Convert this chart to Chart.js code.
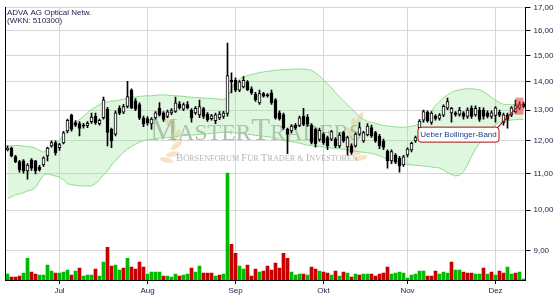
<!DOCTYPE html>
<html>
<head>
<meta charset="utf-8">
<script src="https://cdn.jsdelivr.net/npm/chart.js@4/dist/chart.umd.min.js"></script>
<style>
html, body { margin: 0; padding: 0; background: #fff; }
#wrap { width: 555px; height: 300px; position: relative; }
</style>
</head>
<body>
<div id="wrap"><canvas id="chart"></canvas></div>
<script>
// Tageskerzen (Eröffnung, Hoch, Tief, Schluss)
var openP = [11.72,11.77,11.51,11.36,11.38,11.09,11.41,11.38,11.20,11.26,11.53,11.84,11.94,11.78,11.93,12.31,12.83,12.58,12.55,12.50,
  12.48,12.61,12.79,12.55,12.75,13.03,12.36,12.21,13.06,12.93,13.13,13.70,13.32,13.19,12.74,12.72,12.54,12.74,13.06,12.91,
  12.79,12.91,12.96,13.22,13.03,13.19,13.00,12.91,12.84,13.05,12.86,12.71,12.65,12.74,12.79,12.89,14.06,14.06,13.70,13.82,
  14.00,13.75,13.56,13.25,13.58,13.52,13.60,13.36,12.91,12.85,12.36,12.31,12.49,12.49,12.79,12.77,12.49,12.36,12.04,12.21,
  12.10,12.05,12.05,11.84,12.26,11.81,11.84,11.84,12.21,11.99,12.18,12.42,12.26,12.15,11.99,11.68,11.38,11.56,11.46,11.26,
  11.56,11.71,11.99,12.42,12.66,12.93,12.59,12.79,12.72,12.83,13.07,12.91,12.91,12.86,12.91,12.79,13.06,12.84,13.00,13.00,
  12.91,12.79,12.82,12.93,12.58,12.84,12.84,12.95,13.08,13.22];
var highP = [11.84,11.80,11.55,11.40,11.42,11.30,11.45,11.40,11.25,11.50,11.80,12.00,12.00,11.92,12.30,12.70,12.87,12.65,12.62,12.56,
  12.62,12.90,12.90,12.70,13.45,13.10,12.40,12.98,13.15,13.20,14.02,13.75,13.40,13.25,12.80,12.78,12.75,12.95,13.26,12.95,
  13.00,13.05,13.45,13.30,13.25,13.30,13.05,13.12,13.35,13.10,12.92,12.86,12.90,12.95,12.96,15.50,14.34,14.15,14.05,14.20,
  14.05,13.82,13.62,13.70,13.62,13.58,13.70,13.40,12.98,12.90,12.40,12.52,12.55,12.80,13.06,12.85,12.55,12.40,12.40,12.25,
  12.15,12.33,12.10,12.25,12.30,12.15,11.90,12.25,12.58,12.30,12.55,12.50,12.30,12.20,12.05,11.72,11.72,11.60,11.52,11.55,
  11.78,11.96,12.15,12.68,13.00,12.98,12.95,12.85,12.88,13.18,13.42,13.10,12.95,13.10,12.95,13.08,13.15,13.15,13.10,13.08,
  12.98,12.98,13.12,13.00,12.90,12.90,13.12,13.35,13.30,13.28];
var lowP = [11.68,11.50,11.33,11.05,11.02,10.85,11.10,11.00,11.08,11.22,11.38,11.80,11.55,11.70,11.90,12.25,12.30,12.45,12.15,12.40,
  12.42,12.56,12.52,12.50,12.70,11.84,11.78,12.15,12.85,12.88,13.08,13.05,12.98,12.68,12.45,12.50,12.37,12.70,12.80,12.62,
  12.75,12.85,12.92,13.03,12.98,13.04,12.60,12.86,12.75,12.72,12.62,12.66,12.55,12.68,12.72,12.80,13.60,13.65,13.65,13.78,
  13.68,13.55,13.30,13.20,13.45,13.45,13.20,12.70,12.66,12.36,11.60,12.25,12.36,12.45,12.48,12.46,11.90,11.80,11.98,11.88,
  11.72,12.00,11.78,11.78,11.95,11.55,11.58,11.80,12.17,11.95,12.15,12.10,11.95,11.75,11.72,11.17,11.30,11.30,11.05,11.22,
  11.50,11.65,11.95,12.38,12.60,12.60,12.52,12.66,12.66,12.78,13.02,12.60,12.80,12.80,12.70,12.72,12.72,12.80,12.62,12.70,
  12.74,12.72,12.60,12.78,12.50,12.40,12.78,12.90,13.02,13.08];
var closeP = [11.76,11.53,11.36,11.12,11.09,11.26,11.17,11.09,11.12,11.47,11.77,11.94,11.63,11.88,12.25,12.66,12.36,12.50,12.39,12.47,
  12.56,12.77,12.58,12.66,13.36,12.26,11.99,12.91,12.90,13.12,13.47,13.08,13.03,12.74,12.53,12.58,12.70,12.91,12.84,12.69,
  12.94,12.99,13.25,13.08,13.19,13.08,12.74,13.06,13.12,12.79,12.68,12.81,12.84,12.87,12.90,14.23,14.00,13.70,14.00,14.06,
  13.72,13.61,13.36,13.58,13.49,13.50,13.25,12.74,12.71,12.41,12.20,12.47,12.41,12.74,12.52,12.52,11.95,11.90,12.33,11.94,
  11.84,12.29,11.84,12.18,11.99,12.10,11.64,12.21,12.42,12.26,12.47,12.15,11.99,11.84,11.79,11.38,11.66,11.36,11.23,11.50,
  11.74,11.92,12.10,12.63,12.95,12.65,12.90,12.72,12.83,13.13,13.30,13.06,12.86,13.00,12.79,13.00,12.79,13.06,12.69,12.79,
  12.79,12.91,13.08,12.83,12.84,12.69,13.08,13.16,13.22,13.13];

// Bollinger-Band (oben / unten)
var bbUpper = [11.83,11.84,11.85,11.85,11.83,11.82,11.80,11.77,11.70,11.64,11.74,11.83,11.92,12.01,12.20,12.36,12.49,12.59,12.69,12.79,
  12.92,13.02,13.11,13.19,13.26,13.29,13.31,13.32,13.35,13.38,13.41,13.44,13.46,13.48,13.49,13.50,13.50,13.52,13.53,13.53,
  13.52,13.51,13.50,13.49,13.48,13.46,13.45,13.44,13.43,13.42,13.41,13.40,13.39,13.38,13.37,13.43,13.75,14.00,14.11,14.18,
  14.24,14.27,14.31,14.35,14.37,14.39,14.41,14.43,14.45,14.45,14.46,14.47,14.48,14.48,14.48,14.46,14.43,14.34,14.22,14.07,
  13.93,13.79,13.61,13.46,13.32,13.19,13.05,12.92,12.79,12.69,12.62,12.59,12.56,12.52,12.49,12.47,12.46,12.44,12.43,12.43,
  12.44,12.46,12.49,12.56,12.65,12.82,12.98,13.16,13.29,13.43,13.53,13.62,13.68,13.71,13.74,13.75,13.75,13.74,13.71,13.64,
  13.55,13.44,13.34,13.26,13.20,13.19,13.19,13.19,13.19,13.19];
var bbLower = [10.31,10.36,10.42,10.44,10.47,10.52,10.55,10.61,10.80,10.96,11.00,10.97,10.94,10.91,10.83,10.72,10.69,10.68,10.66,10.66,
  10.66,10.66,10.72,10.83,10.97,11.08,11.26,11.38,11.52,11.64,11.74,11.82,11.89,11.95,12.00,12.03,12.04,12.06,12.08,12.09,
  12.10,12.11,12.13,12.15,12.16,12.17,12.18,12.19,12.20,12.21,12.22,12.23,12.24,12.26,12.27,12.28,12.27,12.25,12.23,12.22,
  12.20,12.19,12.17,12.16,12.14,12.13,12.11,12.08,12.04,12.01,11.98,11.97,11.95,11.92,11.89,11.86,11.85,11.83,11.82,11.80,
  11.79,11.77,11.76,11.75,11.74,11.72,11.71,11.67,11.66,11.64,11.63,11.61,11.58,11.54,11.48,11.43,11.39,11.33,11.30,11.29,
  11.28,11.26,11.25,11.24,11.23,11.22,11.20,11.19,11.17,11.11,11.04,10.98,10.94,10.96,11.06,11.26,11.52,11.74,11.92,12.11,
  12.27,12.39,12.51,12.59,12.62,12.65,12.67,12.68,12.69,12.69];

// Umsatz (Tsd. Stück) und Richtung (1 = steigend, -1 = fallend)
var volume = [24,12,12,16,28,88,32,24,20,20,60,36,28,28,32,40,20,36,48,16,
  20,20,44,16,72,132,56,60,40,48,88,52,44,72,52,24,32,32,32,16,
  16,12,24,16,20,24,48,32,56,28,28,28,16,20,24,432,144,108,56,44,
  60,16,44,32,36,56,40,68,48,108,88,32,20,24,24,20,52,44,36,32,
  28,20,36,16,32,28,12,24,20,24,24,24,16,24,28,52,24,28,32,28,
  8,20,24,36,36,16,16,36,24,32,28,72,40,40,32,28,28,24,24,48,
  24,32,20,36,28,52,24,28,32,4];
var volDir = [1,-1,-1,-1,1,1,-1,-1,1,1,1,1,-1,1,1,1,-1,1,-1,1,
  1,1,-1,1,1,-1,-1,1,1,-1,1,-1,-1,-1,-1,1,1,1,1,-1,
  1,1,1,-1,1,1,-1,1,1,-1,-1,-1,1,-1,1,1,-1,-1,1,1,
  -1,-1,-1,1,-1,-1,-1,-1,-1,-1,-1,1,1,1,-1,1,-1,-1,1,-1,
  -1,1,-1,1,-1,1,-1,1,-1,1,1,-1,-1,-1,-1,-1,1,1,1,1,
  1,1,1,1,1,-1,-1,-1,1,1,1,-1,1,1,-1,-1,-1,1,1,-1,
  1,-1,1,-1,-1,1,1,-1,1,1];

// Achsen
var months = ['Jul', 'Aug', 'Sep', 'Okt', 'Nov', 'Dez'];
var monthStart = [13, 35, 57, 79, 100, 122];
var priceTicks = [9, 10, 11, 12, 13, 14, 15, 16, 17];
var titleLines = ['ADVA AG Optical Netw.', '(WKN: 510300)'];
var signalIndex = 128;
var signalText = 'Ueber Bollinger-Band';

var FONT = '"Liberation Sans", Arial, sans-serif';
var TEXT = '#1c1c48';
Chart.defaults.font.family = FONT;
Chart.defaults.font.size = 8;

var labels = [];
var bodies = [];
var wicks = [];
for (var i = 0; i < closeP.length; i++) {
    var k = monthStart.indexOf(i);
    labels.push(k >= 0 ? months[k] : '');
    bodies.push([openP[i], closeP[i]]);
    wicks.push([lowP[i], highP[i]]);
}

// Wasserzeichen in Kapitälchen
function smallCaps(ctx, parts, x, y, width) {
    var total = 0;
    parts.forEach(function (p) {
        ctx.font = p[1] + 'px "Liberation Serif", serif';
        total += ctx.measureText(p[0]).width;
    });
    ctx.save();
    ctx.translate(x, y);
    ctx.scale(width / total, 1);
    var cx = 0;
    parts.forEach(function (p) {
        ctx.font = p[1] + 'px "Liberation Serif", serif';
        ctx.fillText(p[0], cx, 0);
        cx += ctx.measureText(p[0]).width;
    });
    ctx.restore();
}

function laurel(ctx, cx, cy, flip) {
    ctx.save();
    ctx.translate(cx, cy);
    ctx.scale(flip ? -1 : 1, 1);
    ctx.fillStyle = 'rgba(242,190,130,0.45)';
    for (var j = 0; j < 6; j++) {
        var a = -1.1 + j * 0.45;
        var lx = Math.cos(a) * 18 - 6;
        var ly = Math.sin(a) * 22;
        ctx.save();
        ctx.translate(lx, ly);
        ctx.rotate(a - 0.9);
        ctx.beginPath();
        ctx.ellipse(0, 0, 7, 2.6, 0, 0, Math.PI * 2);
        ctx.fill();
        ctx.restore();
    }
    ctx.restore();
}

var decoPlugin = {
    id: 'deco',
    beforeDatasetsDraw: function (chart) {
        var ctx = chart.ctx;
        ctx.save();
        laurel(ctx, 165, 140, false);
        laurel(ctx, 362, 138, true);
        ctx.fillStyle = 'rgba(120,120,120,0.55)';
        ctx.textBaseline = 'alphabetic';
        smallCaps(ctx, [['M', 32], ['ASTER', 24], ['T', 32], ['RADERS', 24]], 150, 140, 212);
        smallCaps(ctx, [['B', 10.5], ['ÖRSENFORUM ', 8], ['F', 10.5], ['ÜR ', 8], ['T', 10.5], ['RADER & ', 8], ['I', 10.5], ['NVESTOREN', 8]], 176, 161, 182);
        ctx.restore();
    },
    afterDatasetsDraw: function (chart) {
        var ctx = chart.ctx;
        var px = chart.scales.x.getPixelForValue(signalIndex);
        var py = chart.scales.y.getPixelForValue(bbUpper[signalIndex]);
        ctx.save();
        // Signal-Markierung
        ctx.fillStyle = 'rgba(236,70,70,0.6)';
        ctx.fillRect(px - 4, py - 7, 8, 17);
        // Verbindungslinie
        var bx = px - 102, by = py + 22, bw = 81, bh = 15;
        ctx.strokeStyle = '#a01010';
        ctx.lineWidth = 1.2;
        ctx.beginPath();
        ctx.moveTo(bx + bw - 1, by + 1);
        ctx.lineTo(px, py);
        ctx.stroke();
        // Beschriftung
        ctx.fillStyle = '#fff';
        ctx.lineWidth = 1;
        ctx.beginPath();
        ctx.roundRect(bx + 0.5, by + 0.5, bw, bh, 3);
        ctx.fill();
        ctx.stroke();
        ctx.fillStyle = '#1f3f80';
        ctx.font = '8px ' + FONT;
        ctx.textAlign = 'center';
        ctx.textBaseline = 'middle';
        ctx.fillText(signalText, bx + bw / 2 + 0.5, by + bh / 2 + 1);
        ctx.restore();
    },
    afterDraw: function (chart) {
        var ctx = chart.ctx;
        ctx.save();
        ctx.fillStyle = TEXT;
        ctx.font = '8px ' + FONT;
        ctx.textBaseline = 'alphabetic';
        ctx.fillText(titleLines[0], 7, 15);
        ctx.fillText(titleLines[1], 7, 23);
        ctx.restore();
    }
};

new Chart(document.getElementById('chart').getContext('2d'), {
    type: 'bar',
    data: {
        labels: labels,
        datasets: [
            {
                type: 'line',
                label: 'BB oben',
                data: bbUpper,
                yAxisID: 'y',
                borderColor: '#8ddc8d',
                borderWidth: 1,
                pointRadius: 0,
                tension: 0,
                fill: '+1',
                backgroundColor: 'rgba(150,225,150,0.3)',
                order: 5
            },
            {
                type: 'line',
                label: 'BB unten',
                data: bbLower,
                yAxisID: 'y',
                borderColor: '#8ddc8d',
                borderWidth: 1,
                pointRadius: 0,
                tension: 0,
                fill: false,
                order: 4
            },
            {
                label: 'Umsatz',
                data: volume,
                yAxisID: 'yVol',
                backgroundColor: volDir.map(function (d) { return d > 0 ? '#00bb00' : '#c80000'; }),
                barThickness: 3,
                grouped: false,
                order: 3
            },
            {
                label: 'Docht',
                data: wicks,
                yAxisID: 'y',
                backgroundColor: '#000',
                barThickness: 1,
                grouped: false,
                order: 2
            },
            {
                label: 'Kerze',
                data: bodies,
                yAxisID: 'y',
                backgroundColor: closeP.map(function (c, j) { return c >= openP[j] ? '#fff' : '#000'; }),
                borderColor: '#000',
                borderWidth: 1,
                borderSkipped: false,
                minBarLength: 1,
                barThickness: 3,
                grouped: false,
                order: 1
            }
        ]
    },
    options: {
        responsive: true,
        maintainAspectRatio: false,
        animation: false,
        layout: { padding: { left: 0.5, right: 0, top: 5, bottom: 0 } },
        plugins: {
            legend: { display: false },
            tooltip: { enabled: false }
        },
        scales: {
            x: {
                offset: true,
                grid: { offset: false, color: '#d6d6d6', tickColor: '#000', tickLength: 4 },
                border: { color: '#000' },
                ticks: { autoSkip: false, maxRotation: 0, color: TEXT, padding: 2, font: { size: 8 } },
                afterBuildTicks: function (scale) {
                    scale.ticks = monthStart.map(function (v) { return { value: v }; });
                },
                afterFit: function (scale) { scale.height = 20; }
            },
            y: {
                type: 'logarithmic',
                position: 'right',
                bounds: 'data',
                min: 8.33,
                max: 17,
                grid: { color: '#d6d6d6', tickColor: '#000', tickLength: 5 },
                border: { color: '#000' },
                ticks: {
                    color: TEXT,
                    padding: 3,
                    font: { size: 8 },
                    callback: function (v) { return Number(v).toFixed(2).replace('.', ','); }
                },
                afterBuildTicks: function (scale) {
                    scale.ticks = priceTicks.map(function (v) { return { value: v }; });
                },
                afterFit: function (scale) { scale.width = 29.5; }
            },
            yVol: {
                position: 'left',
                min: 0,
                max: 1100,
                grid: { display: false, drawTicks: false },
                border: { display: true, color: '#000' },
                ticks: { display: false },
                afterFit: function (scale) { scale.width = 5; }
            }
        }
    },
    plugins: [decoPlugin]
});
</script>
</body>
</html>
